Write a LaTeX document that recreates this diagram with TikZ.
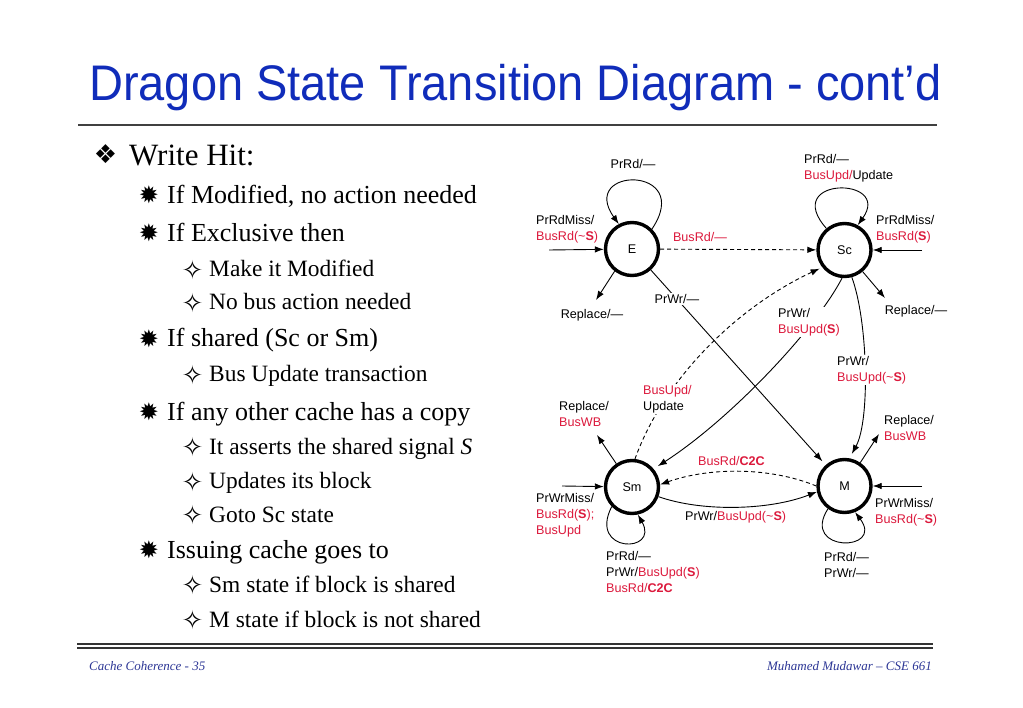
\documentclass[tikz,border=0pt]{standalone}
\usepackage{fontspec}
\setmainfont{Liberation Serif}
\setsansfont{Liberation Sans}
\newfontfamily\titlefont[FakeStretch=0.94]{Liberation Sans}
\newfontfamily\symfont{DejaVu Sans}
\usetikzlibrary{arrows.meta}
\definecolor{titleblue}{RGB}{16,44,186}
\definecolor{footblue}{RGB}{45,55,150}
\definecolor{busred}{RGB}{220,25,60}
\newcommand{\lblfont}{\fontsize{12.6}{15.8}\selectfont\sffamily}
\newcommand{\redt}[1]{\textcolor{busred}{#1}}
\newcommand{\tld}{\char"7E}
\tikzset{
  state/.style={circle,draw,line width=3.4pt,minimum size=53pt,inner sep=0pt,font=\lblfont},
  lbl/.style={inner sep=0pt,align=left,font=\lblfont},
  wlbl/.style={lbl,fill=white,inner sep=1.5pt},
  tr/.style={line width=0.9pt,-{Latex[length=9pt,width=6.5pt]}},
  dtr/.style={tr,dash pattern=on 4pt off 3pt},
  lvA/.style={anchor=base west,inner sep=0pt,font=\fontsize{31}{34}\selectfont},
  lvB/.style={anchor=base west,inner sep=0pt,font=\fontsize{26}{30}\selectfont},
  lvC/.style={anchor=base west,inner sep=0pt,font=\fontsize{23.4}{27}\selectfont},
  bulA/.style={anchor=center,inner sep=0pt,font=\symfont\fontsize{26}{26}\selectfont},
  bulB/.style={anchor=center,inner sep=0pt,font=\symfont\fontsize{24}{24}\selectfont},
  bulC/.style={anchor=center,inner sep=0pt,font=\symfont\fontsize{26}{26}\selectfont},
  foot/.style={inner sep=0pt,text=footblue,font=\itshape\fontsize{13}{13}\selectfont},
}
\begin{document}
\begin{tikzpicture}[x=1pt,y=1pt]
\useasboundingbox (0,0) rectangle (1023,-708);
\fill[white] (0,0) rectangle (1023,-708);

% title
\node[anchor=base west,inner sep=0pt,text=titleblue,font=\titlefont\fontsize{50}{50}\selectfont] (title) at (89,-100.7) {Dragon State Transition Diagram - cont’d};
\draw[line width=2pt,black!75] (78,-125.5) -- (937,-125.5);

% bullets
\node[bulA] (bA1) at (105.5,-154.5) {❖};
\node[lvA] (tA1) at (129,-166) {Write Hit:};
\node[bulB] (bB1) at (149,-195) {✹};
\node[lvB] (tB1) at (167,-204) {If Modified, no action needed};
\node[bulB] (bB2) at (149,-233) {✹};
\node[lvB] (tB2) at (167,-242) {If Exclusive then};
\node[bulC] (bC1) at (192.5,-270.5) {✧};
\node[lvC] (tC1) at (209,-277) {Make it Modified};
\node[bulC] (bC2) at (192.5,-303.5) {✧};
\node[lvC] (tC2) at (209,-310) {No bus action needed};
\node[bulB] (bB3) at (149,-338.5) {✹};
\node[lvB] (tB3) at (167,-347) {If shared (Sc or Sm)};
\node[bulC] (bC3) at (192.5,-375.5) {✧};
\node[lvC] (tC3) at (209,-382) {Bus Update transaction};
\node[bulB] (bB4) at (149,-412) {✹};
\node[lvB] (tB4) at (167,-420.5) {If any other cache has a copy};
\node[bulC] (bC4) at (192.5,-447.5) {✧};
\node[lvC] (tC4) at (209,-454) {It asserts the shared signal \textit{S}};
\node[bulC] (bC5) at (192.5,-482.5) {✧};
\node[lvC] (tC5) at (209,-489) {Updates its block};
\node[bulC] (bC6) at (192.5,-515.5) {✧};
\node[lvC] (tC6) at (209,-522) {Goto Sc state};
\node[bulB] (bB5) at (149,-549.5) {✹};
\node[lvB] (tB5) at (167,-558) {Issuing cache goes to};
\node[bulC] (bC7) at (192.5,-585.5) {✧};
\node[lvC] (tC7) at (209,-592) {Sm state if block is shared};
\node[bulC] (bC8) at (192.5,-620.5) {✧};
\node[lvC] (tC8) at (209,-627) {M state if block is not shared};

% footer
\draw[line width=2.4pt,black!80] (77,-644) -- (933,-644);
\draw[line width=1.1pt,black!80] (77,-648) -- (933,-648);
\node[foot,anchor=base west] (fL) at (89,-670.5) {Cache Coherence - 35};
\node[foot,anchor=base east] (fR) at (932,-670.5) {Muhamed Mudawar – CSE 661};

% states
\node[state] (E)  at (632,-249) {E};
\node[state] (Sc) at (844.5,-250) {Sc};
\node[state] (Sm) at (632,-487) {Sm};
\node[state] (M)  at (844.5,-486) {M};

% free ends
\coordinate (Ein)  at (549,-250);
\coordinate (Scin) at (922,-250);
\coordinate (Smin) at (562,-486);
\coordinate (Min)  at (922,-486);
\coordinate (Erep)  at (596,-300);
\coordinate (Screp) at (885,-298);
\coordinate (Smrep) at (597,-435);
\coordinate (Mrep)  at (879,-434);

% self loops
\draw[tr] (E.45) .. controls +(43,64) and +(-41,58) .. (E.118);
\draw[tr] (Sc.130) .. controls +(-46,52) and +(35,49) .. (Sc.62);
\draw[tr] (Sm.224) .. controls +(-24,-47) and +(22,-39) .. (Sm.282);
\draw[tr] (M.234) .. controls +(-28,-44) and +(30,-40) .. (M.292);

% incoming / replace
\draw[tr] (Ein) -- (E);
\draw[tr] (Scin) -- (Sc);
\draw[tr] (Smin) -- (Sm);
\draw[tr] (Min) -- (M);
\draw[tr] (E.232) -- (Erep);
\draw[tr] (Sc.310) -- (Screp);
\draw[tr] (Sm.124) -- (Smrep);
\draw[tr] (M.56) -- (Mrep);

% transitions between states
\draw[dtr] (E) -- (Sc);
\draw[tr,shorten >=5pt] (E) -- (M);
\draw[dtr,shorten >=3pt] (Sm.84) .. controls +(30,83) and +(-82,-38) .. (Sc.218);
\draw[tr,shorten >=5pt] (Sc.265) .. controls +(-27,-52) and +(76,49) .. (Sm.40);
\draw[tr,shorten >=5pt] (Sc.285) .. controls +(16,-43) and +(21,38) .. (M.80);
\draw[dtr] (M.180) .. controls +(-46,19) and +(50,17.5) .. (Sm.5);
\draw[tr] (Sm.340) .. controls +(42,-15) and +(-49,-19) .. (M.192);

% labels
\node[lbl] (lEloop) at (633,-164) {PrRd/—};
\node[lbl,anchor=west] (lEin) at (536,-229) {PrRdMiss/\\\redt{BusRd(\tld\textbf{S})}};
\node[lbl] (lErep) at (592,-315) {Replace/—};
\node[lbl] (lESc) at (700,-237) {\redt{BusRd/—}};
\node[wlbl] (lEM) at (677,-299) {PrWr/—};
\node[lbl,anchor=west] (lScloop) at (804,-168.5) {PrRd/—\\\redt{BusUpd/}Update};
\node[lbl,anchor=west] (lScin) at (876,-229) {PrRdMiss/\\\redt{BusRd(\textbf{S})}};
\node[lbl] (lScrep) at (916,-311) {Replace/—};
\node[wlbl,anchor=west] (lScSm) at (776.5,-322) {PrWr/\\\redt{BusUpd(\textbf{S})}};
\node[wlbl,anchor=west] (lScM) at (835.5,-370) {PrWr/\\\redt{BusUpd(\tld\textbf{S})}};
\node[wlbl,anchor=west] (lSmSc) at (641.5,-399) {\redt{BusUpd/}\\Update};
\node[lbl,anchor=west] (lSmrep) at (559,-414) {Replace/\\\redt{BusWB}};
\node[lbl,anchor=west] (lSmin) at (536,-515) {PrWrMiss/\\\redt{BusRd(\textbf{S});}\\\redt{BusUpd}};
\node[lbl,anchor=west] (lSmloop) at (606,-572) {PrRd/—\\PrWr/\redt{BusUpd(\textbf{S})}\\\redt{BusRd/\textbf{C2C}}};
\node[lbl,anchor=west] (lMSm) at (698,-461) {\redt{BusRd/\textbf{C2C}}};
\node[lbl,anchor=west] (lSmM) at (685,-517) {PrWr/\redt{BusUpd(\tld\textbf{S})}};
\node[lbl,anchor=west] (lMrep) at (884,-428) {Replace/\\\redt{BusWB}};
\node[lbl,anchor=west] (lMin) at (875,-512) {PrWrMiss/\\\redt{BusRd(\tld\textbf{S})}};
\node[lbl,anchor=west] (lMloop) at (824,-565) {PrRd/—\\PrWr/—};
\end{tikzpicture}
\end{document}
